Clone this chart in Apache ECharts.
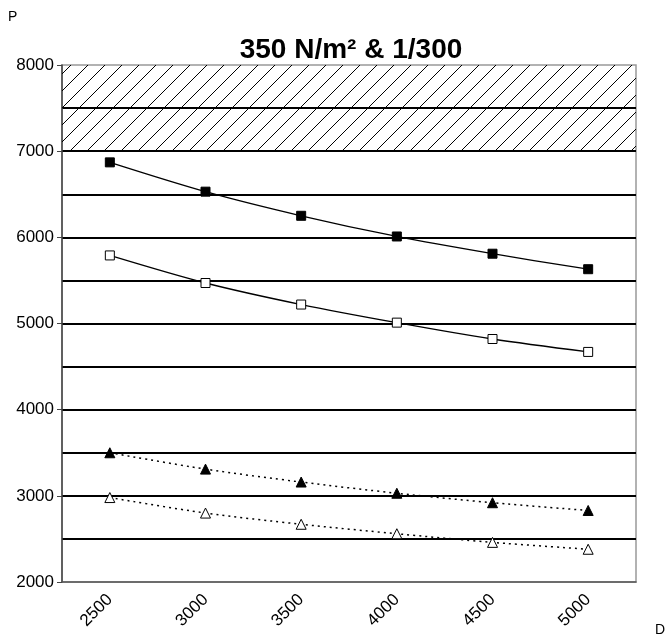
<!DOCTYPE html>
<html>
<head>
<meta charset="utf-8">
<script src="https://cdn.jsdelivr.net/npm/echarts@6/dist/echarts.min.js"></script>
<style>
html,body{margin:0;padding:0;background:#fff;}
#chart{width:666px;height:637px;}
</style>
</head>
<body>
<div id="chart"></div>
<script>
const categories = ['2500', '3000', '3500', '4000', '4500', '5000'];
const filledSquare = [6870, 6530, 6250, 6010, 5810, 5630];
const openSquare = [5790, 5470, 5220, 5010, 4820, 4670];
const filledTriangle = [3500, 3310, 3160, 3030, 2920, 2830];
const openTriangle = [2980, 2800, 2670, 2560, 2460, 2380];
const hatchRange = [7000, 8000];
const titleText = '350 N/m² & 1/300';

function hatchPattern() {
  const s = 17;
  const c = document.createElement('canvas');
  c.width = s; c.height = s;
  const g = c.getContext('2d');
  g.strokeStyle = '#000';
  g.lineWidth = 1;
  g.beginPath();
  g.moveTo(-1, s + 1); g.lineTo(s + 1, -1);
  g.moveTo(-1, 1); g.lineTo(1, -1);
  g.moveTo(s - 1, s + 1); g.lineTo(s + 1, s - 1);
  g.stroke();
  return c;
}

const chart = echarts.init(document.getElementById('chart'), null, {renderer: 'canvas'});
const font = 'Liberation Sans, Arial, sans-serif';
chart.setOption({
  backgroundColor: '#fff',
  animation: false,
  title: {
    text: titleText,
    left: 346,
    top: 31,
    textAlign: 'center',
    textStyle: {fontFamily: font, fontSize: 28, fontWeight: 'bold', color: '#000'}
  },
  graphic: [
    {type: 'text', left: 8, top: 10, style: {text: 'P', font: '14px ' + font, fill: '#000'}},
    {type: 'text', left: 655, top: 623, style: {text: 'D', font: '14px ' + font, fill: '#000'}}
  ],
  grid: {
    left: 62, right: 30, top: 65, bottom: 55,
    show: true, borderColor: '#999', borderWidth: 1.5, backgroundColor: 'transparent'
  },
  xAxis: {
    type: 'category',
    data: categories,
    boundaryGap: true,
    axisLine: {lineStyle: {color: '#555', width: 1.5}},
    axisTick: {show: false},
    axisLabel: {rotate: 45, margin: 15, fontFamily: font, fontSize: 17, color: '#000'},
    splitLine: {show: false}
  },
  yAxis: {
    type: 'value',
    min: 2000, max: 8000, interval: 1000,
    axisLine: {show: true, lineStyle: {color: '#444', width: 1.5}},
    axisTick: {show: true, length: 5, lineStyle: {color: '#444'}},
    axisLabel: {margin: 8, fontFamily: font, fontSize: 17, color: '#000', formatter: function (v) { return String(v); }},
    splitLine: {show: true, showMinLine: false, showMaxLine: false, lineStyle: {color: '#000', width: 2}},
    minorTick: {show: false, splitNumber: 2},
    minorSplitLine: {show: true, lineStyle: {color: '#000', width: 2}}
  },
  series: [
    {
      type: 'line', data: filledSquare, smooth: 0.3,
      symbol: 'rect', symbolSize: 9,
      lineStyle: {color: '#000', width: 1.3},
      itemStyle: {color: '#000', borderColor: '#000'},
      markArea: {
        silent: true,
        itemStyle: {color: {image: hatchPattern(), repeat: 'repeat'}},
        data: [[{yAxis: hatchRange[0]}, {yAxis: hatchRange[1]}]]
      }
    },
    {
      type: 'line', data: openSquare, smooth: 0.3,
      symbol: 'rect', symbolSize: 9,
      lineStyle: {color: '#000', width: 1.3},
      itemStyle: {color: '#fff', borderColor: '#000', borderWidth: 1}
    },
    {
      type: 'line', data: filledTriangle, smooth: 0.3,
      symbol: 'triangle', symbolSize: 10,
      lineStyle: {color: '#000', width: 1.5, type: [2, 4]},
      itemStyle: {color: '#000', borderColor: '#000'}
    },
    {
      type: 'line', data: openTriangle, smooth: 0.3,
      symbol: 'triangle', symbolSize: 10,
      lineStyle: {color: '#000', width: 1.5, type: [2, 4]},
      itemStyle: {color: '#fff', borderColor: '#000', borderWidth: 1}
    }
  ]
});
</script>
</body>
</html>
